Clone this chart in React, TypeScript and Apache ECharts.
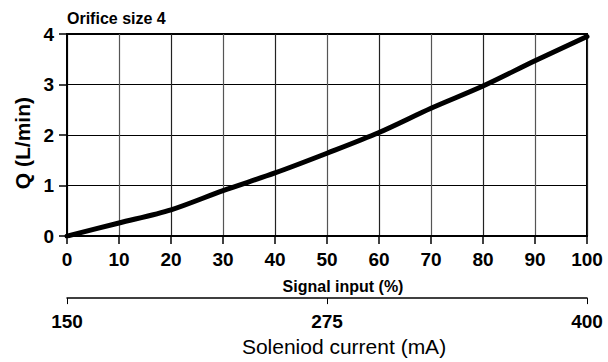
import React, { useEffect, useRef } from "react";
import * as echarts from "echarts";

const signalInput = [0, 10, 20, 30, 40, 50, 60, 70, 80, 90, 100];
const flowQ = [0, 0.26, 0.52, 0.9, 1.25, 1.64, 2.05, 2.53, 2.97, 3.47, 3.95];
const currentTicks = [150, 275, 400];

const FONT = "Liberation Sans, Arial, Helvetica, sans-serif";

export default function App() {
  const ref = useRef<HTMLDivElement>(null);
  useEffect(() => {
    if (!ref.current) return;
    const chart = echarts.init(ref.current, undefined, { renderer: "svg" });
    chart.setOption({
      animation: false,
      backgroundColor: "#fff",
      textStyle: { fontFamily: FONT, color: "#000" },
      title: {
        text: "Orifice size 4",
        left: 62,
        top: 5,
        textStyle: { fontSize: 16, fontWeight: "bold", color: "#000", fontFamily: FONT },
      },
      grid: {
        left: 67,
        right: 21,
        top: 34,
        bottom: 121,
        show: true,
        borderColor: "#000",
        borderWidth: 2,
      },
      xAxis: [
        {
          type: "value",
          min: 0,
          max: 100,
          interval: 10,
          position: "bottom",
          axisLine: { show: true, lineStyle: { color: "#000", width: 2 } },
          axisTick: { show: true, length: 8, lineStyle: { color: "#000", width: 1.5 } },
          axisLabel: { fontSize: 19, fontWeight: "bold", color: "#000", margin: 14, fontFamily: FONT },
          splitLine: { show: true, lineStyle: { color: ["#222", "#555"], width: 1.2 } },
          name: "Signal input (%)",
          nameLocation: "middle",
          nameGap: 42,
          nameTextStyle: { fontSize: 16, fontWeight: "bold", color: "#000", fontFamily: FONT, padding: [0, 0, 0, 32] },
        },
        {
          type: "value",
          min: currentTicks[0],
          max: currentTicks[currentTicks.length - 1],
          interval: currentTicks[1] - currentTicks[0],
          position: "bottom",
          offset: 62,
          axisLine: { show: true, onZero: false, lineStyle: { color: "#000", width: 1.5 } },
          axisTick: { show: true, length: 6, lineStyle: { color: "#000", width: 1 } },
          axisLabel: { fontSize: 19, fontWeight: "bold", color: "#000", margin: 14, fontFamily: FONT },
          splitLine: { show: false },
          name: "Soleniod current (mA)",
          nameLocation: "middle",
          nameGap: 37,
          nameTextStyle: { fontSize: 21, color: "#000", fontFamily: FONT, padding: [0, 0, 0, 34] },
        },
      ],
      yAxis: {
        type: "value",
        min: 0,
        max: 4,
        interval: 1,
        axisLine: { show: true, lineStyle: { color: "#000", width: 2 } },
        axisTick: { show: true, length: 8, lineStyle: { color: "#000", width: 1.5 } },
        axisLabel: { fontSize: 19, fontWeight: "bold", color: "#000", margin: 13, fontFamily: FONT },
        splitLine: { show: true, lineStyle: { color: "#000", width: 1.2 } },
        name: "Q (L/min)",
        nameLocation: "middle",
        nameGap: 32,
        nameTextStyle: { fontSize: 21, fontWeight: "bold", color: "#000", fontFamily: FONT, padding: [0, 16, 0, 0] },
      },
      series: [
        {
          type: "line",
          xAxisIndex: 0,
          data: signalInput.map((x, i) => [x, flowQ[i]]),
          smooth: 0.3,
          showSymbol: false,
          lineStyle: { color: "#000", width: 5, cap: "round" },
        },
      ],
    });
    return () => chart.dispose();
  }, []);
  return <div ref={ref} style={{ width: 608, height: 362, position: "absolute", left: 0, top: 0 }} />;
}
